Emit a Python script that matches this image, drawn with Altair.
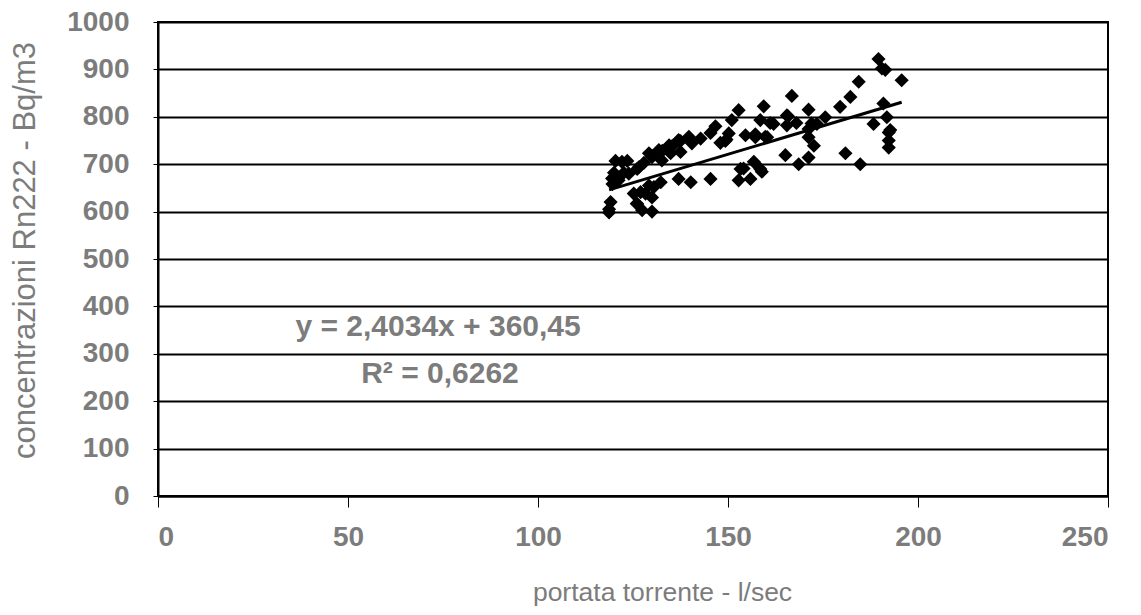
import altair as alt
import pandas as pd

# Data
portata = [118.7, 118.7, 119.1, 119.6, 120.0, 119.5, 120.4, 121.2, 122.1, 122.6,
           123.5, 123.9, 125.2, 126.0, 126.1, 126.1, 126.6, 127.0, 127.4, 127.9,
           128.3, 129.2, 129.2, 130.0, 130.0, 130.0, 130.5, 130.0, 131.8, 132.3,
           132.6, 132.7, 134.5, 134.9, 135.3, 137.0, 137.0, 137.5, 137.5, 139.7,
           140.2, 140.5, 142.8, 145.4, 145.4, 146.7, 148.0, 149.3, 149.6, 150.2,
           151.0, 152.8, 152.8, 153.3, 154.1, 154.6, 155.9, 156.8, 157.2, 157.2,
           158.5, 158.5, 158.9, 159.4, 159.8, 160.3, 161.1, 162.0, 165.1, 165.5,
           165.5, 165.8, 166.8, 168.0, 168.6, 171.2, 171.2, 171.2, 171.2, 172.0,
           172.6, 173.4, 175.6, 179.5, 180.9, 182.2, 184.4, 184.8, 188.3, 189.6,
           190.5, 191.4, 190.9, 191.8, 192.3, 192.3, 192.3, 192.7, 195.7]
concentrazioni = [605, 598, 620, 658, 682, 670, 707, 666, 705, 682,
                  707, 680, 638, 617, 690, 616, 694, 641, 603, 703,
                  638, 655, 723, 715, 630, 600, 652, 717, 730, 662,
                  708, 728, 740, 723, 738, 669, 751, 726, 749, 758,
                  662, 744, 754, 669, 766, 780, 745, 749, 752, 765,
                  793, 814, 666, 690, 691, 761, 669, 705, 763, 757,
                  793, 690, 684, 822, 758, 757, 787, 785, 719, 803,
                  782, 801, 844, 787, 700, 815, 774, 757, 714, 786,
                  739, 785, 799, 821, 723, 842, 874, 700, 785, 922,
                  902, 899, 828, 799, 767, 750, 735, 772, 877]

slope = 2.4034
intercept = 360.45
eq_labels = ["y = 2,4034x + 360,45", "R² = 0,6262"]
eq_x = [73.7, 74.2]
eq_y = [356, 257]

x_ticks = [0, 50, 100, 150, 200, 250]
y_ticks = [0, 100, 200, 300, 400, 500, 600, 700, 800, 900, 1000]

df = pd.DataFrame({"x": portata, "y": concentrazioni})
xmin, xmax = min(portata), max(portata)
trend = pd.DataFrame({"x": [xmin, xmax], "y": [slope * xmin + intercept, slope * xmax + intercept]})
labels = pd.DataFrame({"t": eq_labels, "x": eq_x, "y": eq_y})

FONT = "Liberation Sans"
GRAY = "#7c7c7c"

xscale = alt.Scale(domain=[0, 250], nice=False, zero=True)
yscale = alt.Scale(domain=[0, 1000], nice=False)

xaxis = alt.Axis(values=x_ticks, grid=False, title="portata torrente - l/sec", format="d",
                 labelFont=FONT, labelFontSize=28, labelFontWeight="bold", labelColor=GRAY,
                 labelPadding=16, tickSize=11, tickColor="black", domainColor="black",
                 domainWidth=2, titleFont=FONT, titleFontSize=26.5, titleFontWeight="normal",
                 titleColor=GRAY, titleX=504, titleY=96, titleAlign="center",
                 titleBaseline="middle")
yaxis = alt.Axis(values=y_ticks, grid=True, gridColor="black", gridWidth=2, gridOpacity=1,
                 title="concentrazioni Rn222 - Bq/m3", format="d",
                 labelFont=FONT, labelFontSize=28, labelFontWeight="bold", labelColor=GRAY,
                 labelPadding=24, tickSize=5, tickColor="black", domainColor="black",
                 domainWidth=2, titleFont=FONT, titleFontSize=31, titleFontWeight="normal",
                 titleColor=GRAY, titleX=-133, titleY=228, titleAlign="center",
                 titleBaseline="middle", titleAngle=270)

points = alt.Chart(df).mark_point(shape="diamond", filled=True, color="black", size=200, opacity=1).encode(
    x=alt.X("x:Q", scale=xscale, axis=xaxis),
    y=alt.Y("y:Q", scale=yscale, axis=yaxis),
)

line = alt.Chart(trend).mark_line(color="black", strokeWidth=3).encode(
    x=alt.X("x:Q", scale=xscale),
    y=alt.Y("y:Q", scale=yscale),
)

text = alt.Chart(labels).mark_text(font=FONT, fontSize=30, fontWeight="bold", color=GRAY,
                                   align="center", baseline="middle").encode(
    x=alt.X("x:Q", scale=xscale),
    y=alt.Y("y:Q", scale=yscale),
    text="t:N",
)

chart = alt.layer(points, line, text).properties(
    width=950, height=474,
    autosize=alt.AutoSizeParams(type="none"),
    padding={"left": 158, "top": 22, "right": 33, "bottom": 119},
    background="white",
).configure_view(stroke="black", strokeWidth=2)

chart.save("out.html", embed_options={"renderer": "svg", "actions": False})
